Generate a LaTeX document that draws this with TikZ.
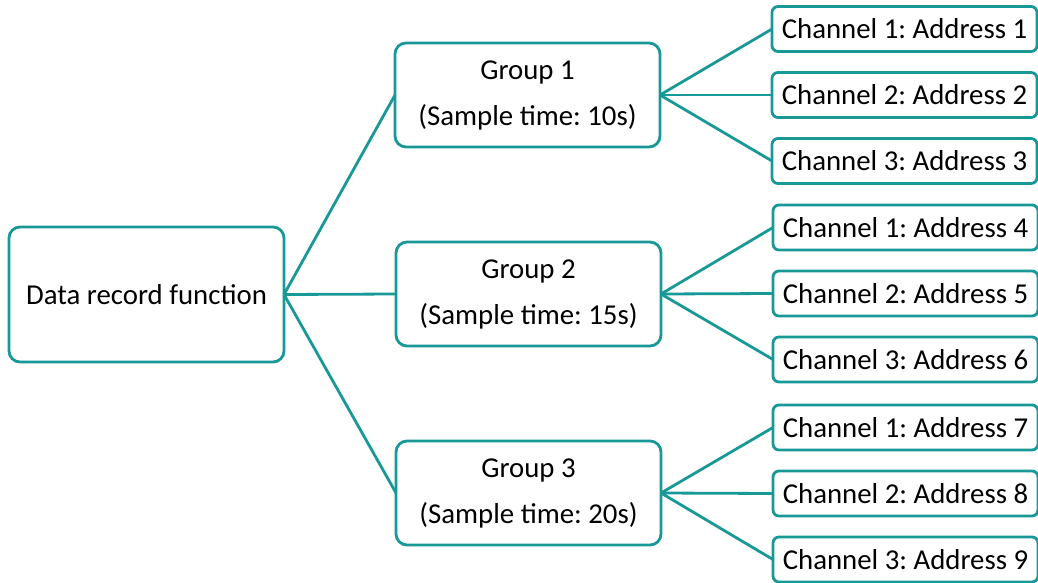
\documentclass[tikz,border=0pt]{standalone}
\usepackage{fontspec}
\setmainfont{Carlito}
\frenchspacing
\definecolor{treeteal}{RGB}{24,152,150}
\tikzset{
  recbox/.style={draw=treeteal,line width=2.8pt,rounded corners=11pt,fill=white,
    inner sep=0pt,outer sep=0pt,align=center,text=black,
    font=\fontsize{28.8}{46}\selectfont},
  rootbox/.style={recbox,minimum width=275pt,minimum height=135pt},
  groupbox/.style={recbox,minimum width=265pt,minimum height=104pt},
  chanbox/.style={recbox,rounded corners=6pt,minimum width=265pt,minimum height=45pt},
  link/.style={draw=treeteal,line width=2.8pt}
}
\begin{document}
\begin{tikzpicture}[x=1pt,y=-1pt]
\path[use as bounding box] (0,0) rectangle (1038,583);
% root
\node[rootbox] (root) at (146.5,294.5) {Data record function};
% groups
\node[groupbox] (grp1) at (527.5,95) {Group 1\\(Sample time: 10s)};
\node[groupbox] (grp2) at (528.5,294) {Group 2\\(Sample time: 15s)};
\node[groupbox] (grp3) at (528.5,493) {Group 3\\(Sample time: 20s)};
% channels
\node[chanbox] (ch11) at (904.5,29) {Channel 1: Address 1};
\node[chanbox] (ch12) at (904.5,95) {Channel 2: Address 2};
\node[chanbox] (ch13) at (904.5,161) {Channel 3: Address 3};
\node[chanbox] (ch21) at (905.5,227.5) {Channel 1: Address 4};
\node[chanbox] (ch22) at (905.5,293.5) {Channel 2: Address 5};
\node[chanbox] (ch23) at (905.5,359.5) {Channel 3: Address 6};
\node[chanbox] (ch31) at (905.5,427.5) {Channel 1: Address 7};
\node[chanbox] (ch32) at (905.5,493.5) {Channel 2: Address 8};
\node[chanbox] (ch33) at (905.5,559.5) {Channel 3: Address 9};
% connectors
\path[link] (root.east) -- (grp1.west);
\path[link] (root.east) -- (grp2.west);
\path[link] (root.east) -- (grp3.west);
\path[link] (grp1.east) -- (ch11.west);
\path[link] (grp1.east) -- (ch12.west);
\path[link] (grp1.east) -- (ch13.west);
\path[link] (grp2.east) -- (ch21.west);
\path[link] (grp2.east) -- (ch22.west);
\path[link] (grp2.east) -- (ch23.west);
\path[link] (grp3.east) -- (ch31.west);
\path[link] (grp3.east) -- (ch32.west);
\path[link] (grp3.east) -- (ch33.west);
\end{tikzpicture}
\end{document}
